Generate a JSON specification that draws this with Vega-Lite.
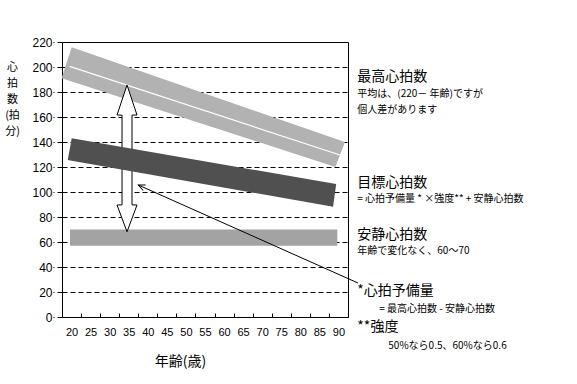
{
  "$schema": "https://vega.github.io/schema/vega-lite/v6.json",
  "width": 286,
  "height": 275,
  "autosize": {"type": "none"},
  "padding": {"left": 62, "top": 42, "right": 229, "bottom": 67},
  "background": "white",
  "config": {
    "view": {"stroke": "black", "strokeWidth": 1},
    "font": "Noto Sans CJK JP"
  },
  "datasets": {
    "maxBand": [
      {"age": 17.4, "hi": 191, "lo": 191},
      {"age": 20.05, "hi": 215.8, "lo": 188.4},
      {"age": 89.2, "hi": 142.6, "lo": 120},
      {"age": 91.7, "hi": 140, "lo": 140}
    ],
    "avgLine": [
      {"age": 19.5, "hi": 200.5},
      {"age": 91, "hi": 129}
    ],
    "targetBand": [
      {"age": 19.0, "hi": 125.6, "lo": 125.6},
      {"age": 20.05, "hi": 143, "lo": 125.0},
      {"age": 88.6, "hi": 106.8, "lo": 88.2},
      {"age": 89.4, "hi": 106.4, "lo": 106.4}
    ],
    "restBand": [
      {"age": 19.6, "age2": 89.7, "hi": 57, "lo": 70}
    ],
    "bigArrow": [
      {"hi": 68.2, "age": 34.55, "age2": 34.55},
      {"hi": 89.6, "age": 31.93, "age2": 37.17},
      {"hi": 89.7, "age": 33.24, "age2": 35.86},
      {"hi": 161.5, "age": 33.24, "age2": 35.86},
      {"hi": 161.6, "age": 31.93, "age2": 37.17},
      {"hi": 185.6, "age": 34.55, "age2": 34.55}
    ],
    "pointer": [
      {"age": 95.12, "hi": 27.2},
      {"age": 37.51, "hi": 105.6}
    ],
    "pointerTip": [
      {"age": 37.51, "hi": 105.6}
    ],
    "bigText": [
      {"t": "最高心拍数", "age": 94.94, "hi": 192},
      {"t": "目標心拍数", "age": 94.94, "hi": 107.2},
      {"t": "安静心拍数", "age": 94.94, "hi": 65.8},
      {"t": "*心拍予備量", "age": 94.94, "hi": 21.2},
      {"t": "**強度", "age": 94.94, "hi": -7.6}
    ],
    "smallText": [
      {"t": "平均は、(220－ 年齢)ですが", "age": 94.94, "hi": 178.2},
      {"t": "個人差があります", "age": 94.94, "hi": 165.6},
      {"t": "= 心拍予備量 * ×強度** + 安静心拍数", "age": 94.94, "hi": 94.6},
      {"t": "年齢で変化なく、60～70", "age": 94.94, "hi": 52.8},
      {"t": "= 最高心拍数 - 安静心拍数", "age": 100.7, "hi": 6.4},
      {"t": "50%なら0.5、60%なら0.6", "age": 103.07, "hi": -22.8}
    ]
  },
  "encoding": {
    "x": {
      "field": "age", "type": "quantitative",
      "scale": {"domain": [17.5, 92.5], "nice": false, "zero": false},
      "axis": {
        "values": [17.5, 22.5, 27.5, 32.5, 37.5, 42.5, 47.5, 52.5, 57.5, 62.5, 67.5, 72.5, 77.5, 82.5, 87.5, 92.5],
        "labelExpr": "datum.value < 90 ? format(datum.value + 2.5, 'd') : ''",
        "labelOffset": 9.5,
        "labelFlush": false,
        "labelOverlap": false,
        "labelBound": false,
        "tickSize": -4,
        "tickColor": "black",
        "domainColor": "black",
        "grid": false,
        "labelFont": "Liberation Sans",
        "labelFontSize": 11,
        "labelColor": "black",
        "labelPadding": 13,
        "title": "年齢(歳)",
        "titleFont": "Noto Sans CJK JP",
        "titleFontSize": 14,
        "titleFontWeight": "normal",
        "titleColor": "black",
        "titleX": 118,
        "titleY": 44,
        "titleAlign": "center",
        "titleBaseline": "middle"
      }
    },
    "y": {
      "field": "hi", "type": "quantitative",
      "scale": {"domain": [0, 220], "nice": false, "zero": false},
      "axis": {
        "values": [0, 20, 40, 60, 80, 100, 120, 140, 160, 180, 200, 220],
        "grid": true,
        "gridDash": [5, 3],
        "gridColor": "black",
        "gridOpacity": 1,
        "tickSize": 9,
        "tickDash": [5, 3],
        "tickColor": "black",
        "domainColor": "black",
        "labelFont": "Liberation Sans",
        "labelFontSize": 12,
        "labelColor": "black",
        "labelPadding": 1,
        "title": ["心", "拍", "数", "(拍", "分)"],
        "titleFont": "Noto Sans CJK JP",
        "titleFontSize": 11,
        "titleFontWeight": "normal",
        "titleColor": "black",
        "titleLineHeight": 16,
        "titleAngle": 0,
        "titleX": -50,
        "titleY": 19,
        "titleAlign": "center",
        "titleBaseline": "top"
      }
    }
  },
  "layer": [
    {
      "data": {"name": "maxBand"},
      "mark": {"type": "area", "fill": "#b2b2b2", "stroke": null},
      "encoding": {"y2": {"field": "lo"}}
    },
    {
      "data": {"name": "avgLine"},
      "mark": {"type": "line", "color": "white", "strokeWidth": 1.2},
      "encoding": {}
    },
    {
      "data": {"name": "restBand"},
      "mark": {"type": "rect", "fill": "#a3a3a3"},
      "encoding": {"x2": {"field": "age2"}, "y2": {"field": "lo"}}
    },
    {
      "data": {"name": "bigArrow"},
      "mark": {"type": "area", "orient": "horizontal", "fill": "white", "stroke": "black", "strokeWidth": 1},
      "encoding": {"x2": {"field": "age2"}}
    },
    {
      "data": {"name": "targetBand"},
      "mark": {"type": "area", "fill": "#505050", "stroke": null},
      "encoding": {"y2": {"field": "lo"}}
    },
    {
      "data": {"name": "pointer"},
      "mark": {"type": "line", "color": "black", "strokeWidth": 1},
      "encoding": {}
    },
    {
      "data": {"name": "pointerTip"},
      "mark": {"type": "point", "shape": "M-0.45,1L0,0L0.45,1", "filled": false, "stroke": "black", "strokeWidth": 1, "size": 180, "angle": 294, "opacity": 1},
      "encoding": {}
    },
    {
      "data": {"name": "bigText"},
      "mark": {"type": "text", "align": "left", "baseline": "middle", "fontSize": 14, "font": "Noto Sans CJK JP", "color": "black"},
      "encoding": {"text": {"field": "t"}}
    },
    {
      "data": {"name": "smallText"},
      "mark": {"type": "text", "align": "left", "baseline": "middle", "fontSize": 10, "font": "Noto Sans CJK JP", "color": "black"},
      "encoding": {"text": {"field": "t"}}
    }
  ]
}
